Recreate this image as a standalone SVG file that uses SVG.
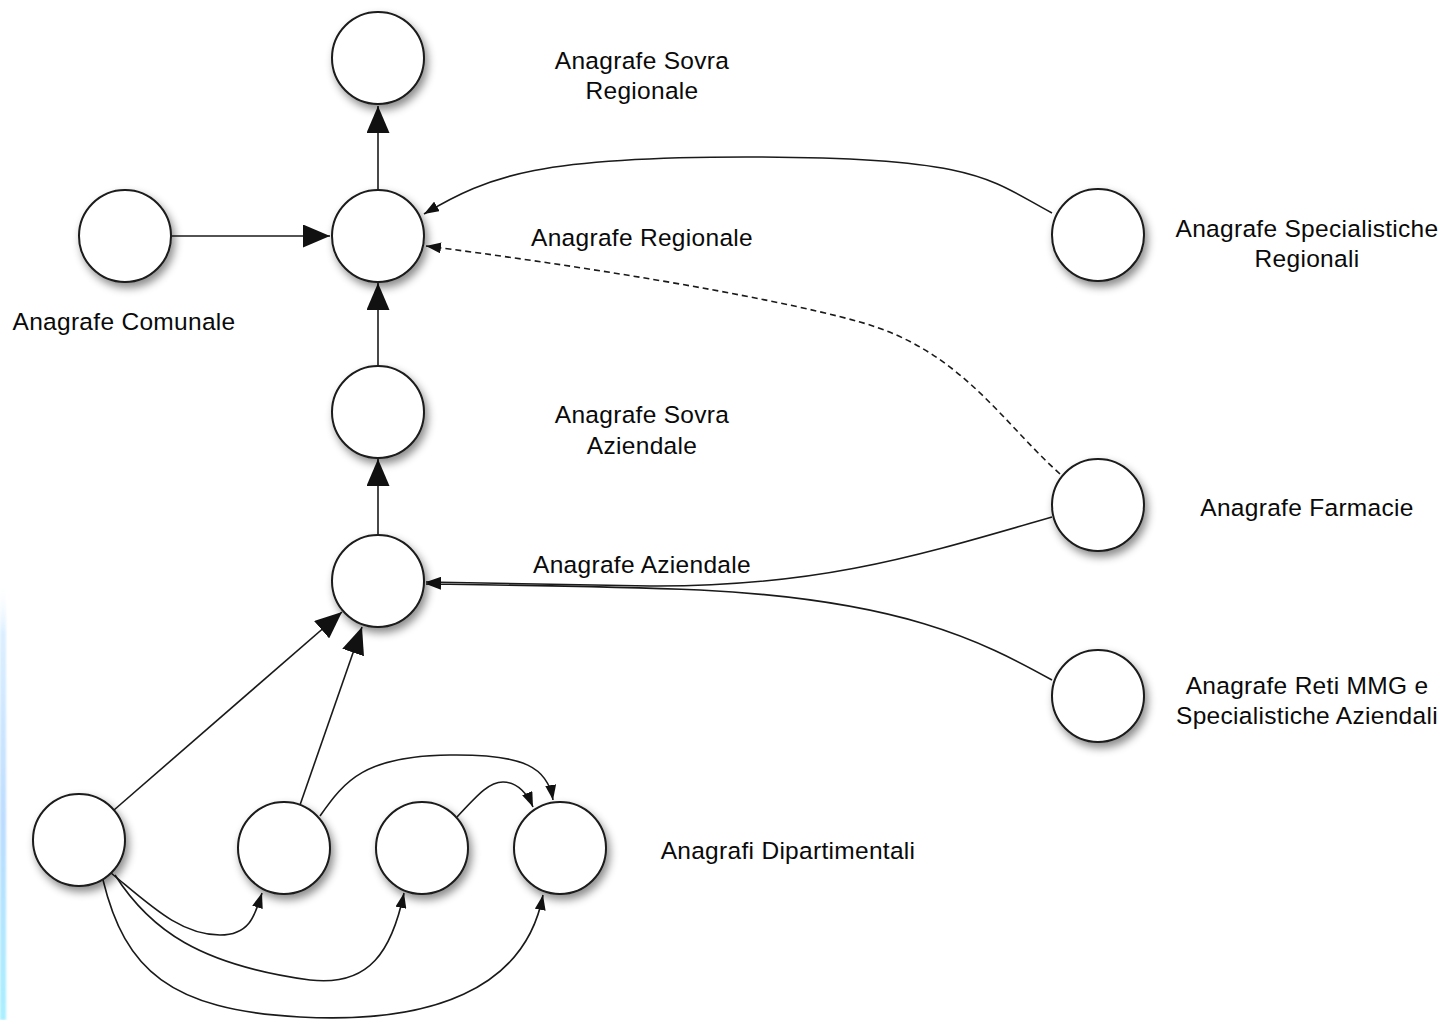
<svg xmlns="http://www.w3.org/2000/svg" width="1447" height="1020" viewBox="0 0 1447 1020">
  <style>
    .node circle { fill: #ffffff; stroke: #1a1a1a; stroke-width: 2; filter: url(#shadow); }
    .edge { fill: none; stroke: #1a1a1a; stroke-width: 1.6; }
    .big { marker-end: url(#arrowBig); }
    .small { marker-end: url(#arrowSmall); }
    .dashed { stroke-dasharray: 6 4; }
    .label { font-family: "Liberation Sans", Arial, Helvetica, sans-serif; font-size: 24.5px; fill: #0a0a0a; text-anchor: middle; letter-spacing: 0.3px; }
  </style>
  <defs>
    <filter id="shadow" x="-30%" y="-30%" width="170%" height="170%">
      <feDropShadow dx="3" dy="5" stdDeviation="4" flood-color="#000000" flood-opacity="0.45"/>
    </filter>
    <filter id="soft" x="-200%" y="-5%" width="500%" height="110%">
      <feGaussianBlur stdDeviation="1"/>
    </filter>
    <marker id="arrowBig" viewBox="0 0 27 23" markerWidth="27" markerHeight="23" refX="27" refY="11.5" orient="auto" markerUnits="userSpaceOnUse">
      <path d="M0,0 L27,11.5 L0,23 Z" fill="#111111"/>
    </marker>
    <marker id="arrowSmall" viewBox="0 0 15 11" markerWidth="15" markerHeight="11" refX="15" refY="5.5" orient="auto" markerUnits="userSpaceOnUse">
      <path d="M0,0 L15,5.5 L0,11 Z" fill="#111111"/>
    </marker>
    <linearGradient id="edgeGlow" x1="0" y1="0" x2="0" y2="1">
      <stop offset="0" stop-color="#ffffff" stop-opacity="0"/>
      <stop offset="0.12" stop-color="#dcefff"/>
      <stop offset="0.55" stop-color="#bcdcff"/>
      <stop offset="1" stop-color="#a9efff"/>
    </linearGradient>
  </defs>

  <rect width="1447" height="1020" fill="#ffffff"/>
  <!-- soft blue margin on the left side -->
  <rect x="0" y="580" width="6" height="440" fill="url(#edgeGlow)" filter="url(#soft)"/>

  <!-- connectors -->
  <g id="connectors">
    <path class="edge big" d="M378,190 L378,106"/>
    <path class="edge big" d="M171,236 L330,236"/>
    <path class="edge big" d="M378,366 L378,283"/>
    <path class="edge big" d="M378,535 L378,459"/>
    <path class="edge small" d="M1052,213 C990,180 980,158 760,157 C540,156 490,175 424,214"/>
    <path class="edge small dashed" d="M1060,474 C1000,420 960,350 860,322 C760,294 560,263 426,246"/>
    <path class="edge small" d="M1052,517 C920,555 820,587 650,586 C560,585 480,583 426,582"/>
    <path class="edge small" d="M1052,680 C980,640 900,600 700,590 C600,586 500,585 426,584"/>
    <path class="edge big" d="M114,810 L342,612"/>
    <path class="edge big" d="M300,805 L362,627"/>
    <path class="edge small" d="M320,816 C345,780 365,756 450,755 C525,754 548,768 553,800"/>
    <path class="edge small" d="M457,817 C480,792 490,782 503,782 C518,782 528,795 533,807"/>
    <path class="edge small" d="M111,873 C150,905 180,935 220,935 C250,935 255,915 262,893"/>
    <path class="edge small" d="M115,875 C150,930 200,965 310,980 C370,987 392,950 404,893"/>
    <path class="edge small" d="M103,880 C125,970 170,1010 300,1017 C430,1024 525,990 543,895"/>
  </g>

  <!-- nodes -->
  <g id="sovra-regionale" class="node">
    <circle cx="378" cy="58" r="46"/>
    <text class="label" x="642" y="69">Anagrafe Sovra</text>
    <text class="label" x="642" y="99">Regionale</text>
  </g>
  <g id="regionale" class="node">
    <circle cx="378" cy="236" r="46"/>
    <text class="label" x="642" y="246">Anagrafe Regionale</text>
  </g>
  <g id="comunale" class="node">
    <circle cx="125" cy="236" r="46"/>
    <text class="label" x="124" y="330">Anagrafe Comunale</text>
  </g>
  <g id="sovra-aziendale" class="node">
    <circle cx="378" cy="412" r="46"/>
    <text class="label" x="642" y="423">Anagrafe Sovra</text>
    <text class="label" x="642" y="454">Aziendale</text>
  </g>
  <g id="aziendale" class="node">
    <circle cx="378" cy="581" r="46"/>
    <text class="label" x="642" y="573">Anagrafe Aziendale</text>
  </g>
  <g id="specialistiche-regionali" class="node">
    <circle cx="1098" cy="235" r="46"/>
    <text class="label" x="1307" y="237">Anagrafe Specialistiche</text>
    <text class="label" x="1307" y="267">Regionali</text>
  </g>
  <g id="farmacie" class="node">
    <circle cx="1098" cy="505" r="46"/>
    <text class="label" x="1307" y="516">Anagrafe Farmacie</text>
  </g>
  <g id="reti-mmg" class="node">
    <circle cx="1098" cy="696" r="46"/>
    <text class="label" x="1307" y="694">Anagrafe Reti MMG e</text>
    <text class="label" x="1307" y="724">Specialistiche Aziendali</text>
  </g>
  <g id="dipartimentale-1" class="node">
    <circle cx="79" cy="840" r="46"/>
  </g>
  <g id="dipartimentale-2" class="node">
    <circle cx="284" cy="848" r="46"/>
  </g>
  <g id="dipartimentale-3" class="node">
    <circle cx="422" cy="848" r="46"/>
  </g>
  <g id="dipartimentale-4" class="node">
    <circle cx="560" cy="848" r="46"/>
    <text class="label" x="788" y="859">Anagrafi Dipartimentali</text>
  </g>
</svg>
